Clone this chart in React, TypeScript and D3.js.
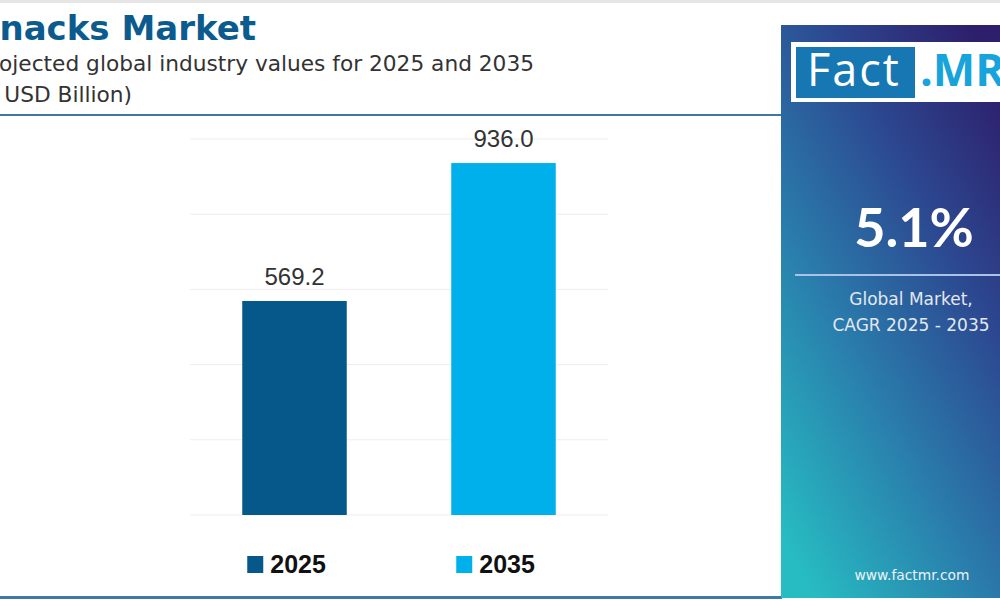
import React from "react";
import * as d3 from "d3";

const years = ["2025", "2035"];
const values = [569.2, 936.0];
const barColors = ["#07588a", "#00b0ea"];
const gridTicks = [0, 200, 400, 600, 800, 1000];
const cagr = "5.1%";

const App = () => {
  const width = 1000;
  const height = 600;
  const plot = { left: 190, right: 608, top: 139, bottom: 515 };
  const wide = "'DejaVu Sans', Verdana, sans-serif";
  const arial = "'Liberation Sans', Arial, sans-serif";

  const x = d3
    .scaleBand()
    .domain(years)
    .range([plot.left, plot.right])
    .paddingInner(0.5)
    .paddingOuter(0.25);

  const y = d3.scaleLinear().domain([0, 1000]).range([plot.bottom, plot.top]);

  return (
    <svg
      width={width}
      height={height}
      style={{ position: "absolute", left: 0, top: 0, display: "block", background: "#fff" }}
    >
      <defs>
        <linearGradient id="panelGrad" x1="0.15" y1="1" x2="0.85" y2="0">
          <stop offset="0" stopColor="#27bcc2" />
          <stop offset="0.4" stopColor="#2a78aa" />
          <stop offset="0.7" stopColor="#2c4890" />
          <stop offset="1" stopColor="#2e1f6c" />
        </linearGradient>
      </defs>

      <rect x={0} y={0} width={width} height={3} fill="#e6e6e6" />

      {/* title block */}
      <text x={256} y={40} textAnchor="end" fontFamily={wide} fontWeight={700} fontSize={34} fill="#0c5b8e">
        Snacks Market
      </text>
      <text x={534} y={71} textAnchor="end" fontFamily={wide} fontSize={21.7} fill="#333">
        Projected global industry values for 2025 and 2035
      </text>
      <text x={132} y={102} textAnchor="end" fontFamily={wide} fontSize={21.7} fill="#333">
        (In USD Billion)
      </text>
      <line x1={0} x2={782} y1={115} y2={115} stroke="#3f77a3" strokeWidth={2} />

      {/* grid */}
      {gridTicks.map((t) => (
        <line key={t} x1={plot.left} x2={plot.right} y1={y(t)} y2={y(t)} stroke="#ededed" strokeWidth={1} />
      ))}

      {/* bars */}
      {years.map((yr, i) => (
        <g key={yr}>
          <rect
            x={x(yr)}
            y={y(values[i])}
            width={x.bandwidth()}
            height={y(0) - y(values[i])}
            fill={barColors[i]}
          />
          <text
            x={(x(yr) as number) + x.bandwidth() / 2}
            y={y(values[i]) - 16}
            textAnchor="middle"
            fontFamily={arial}
            fontSize={24}
            fill="#333"
          >
            {values[i].toFixed(1)}
          </text>
        </g>
      ))}

      {/* legend */}
      {years.map((yr, i) => {
        const lx = (x(yr) as number) + 5;
        return (
          <g key={"lg" + yr}>
            <rect x={lx} y={556} width={16} height={17} fill={barColors[i]} />
            <text x={lx + 23} y={573} fontFamily={arial} fontWeight={700} fontSize={25} fill="#111">
              {yr}
            </text>
          </g>
        );
      })}

      <rect x={0} y={596} width={782} height={3} fill="#3f7aa6" />

      {/* right panel */}
      <rect x={781} y={25} width={219} height={573} fill="url(#panelGrad)" />
      <rect x={791} y={42} width={220} height={60} fill="#fff" />
      <rect x={796} y={47} width={119} height={51} fill="#1677b3" />
      <text x={807} y={86} fontFamily="'Open Sans', sans-serif" fontSize={45} letterSpacing={2} fill="#fff">
        Fact
      </text>
      <text x={920} y={86} fontFamily="'Open Sans', sans-serif" fontWeight={700} fontSize={45} fill="#17a3dc">
        .MR
      </text>

      <text x={914} y={247} textAnchor="middle" fontFamily="Lato, 'Open Sans', sans-serif" fontWeight={700} fontSize={54} fill="#fff">
        {cagr}
      </text>
      <line x1={795} x2={1000} y1={275} y2={275} stroke="#a9c3e6" strokeWidth={2} />
      <text x={911} y={305} textAnchor="middle" fontFamily={wide} fontSize={17} fill="#e3e8f3">
        Global Market,
      </text>
      <text x={911} y={331} textAnchor="middle" fontFamily={wide} fontSize={17} fill="#e3e8f3">
        CAGR 2025 - 2035
      </text>
      <text x={912} y={580} textAnchor="middle" fontFamily={wide} fontSize={13.8} fill="#eef2f8">
        www.factmr.com
      </text>
    </svg>
  );
};

export default App;
